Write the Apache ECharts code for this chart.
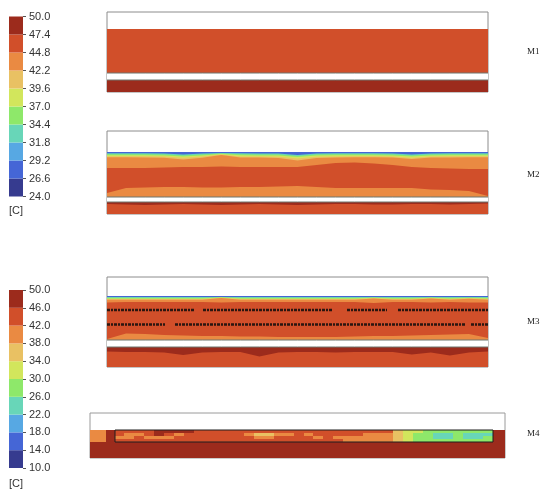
<!DOCTYPE html>
<html><head><meta charset="utf-8">
<script src="https://cdn.jsdelivr.net/npm/echarts@6/dist/echarts.min.js"></script>
<style>html,body{margin:0;padding:0;background:#fff}#c{width:550px;height:499px}</style>
</head><body><div id="c"></div>
<script>
// ---- colour scale (low -> high) and legend ticks ----
const palette = ['#363b8f','#4566d6','#57a8e3','#68d6b8','#8ee86a','#d2e65c','#e9c163','#ea8a42','#d14f2a','#9c2b1c'];
const ticks1 = [24.0,26.6,29.2,31.8,34.4,37.0,39.6,42.2,44.8,47.4,50.0];
const tickLabels1 = ['24.0','26.6','29.2','31.8','34.4','37.0','39.6','42.2','44.8','47.4','50.0'];
const ticks2 = [10,14,18,22,26,30,34,38,42,46,50];
const tickLabels2 = ['10.0','14.0','18.0','22.0','26.0','30.0','34.0','38.0','42.0','46.0','50.0'];
const bandUnits = [1,1,1,1,1,1,1,1,1,1];

// ---- sampling stations along each section ----
const stations = [0,1,2,3,4,5,6,7,8,9,10,11,12,13,14,15,16,17,18,19,20];

// ---- M1: layer top boundaries (height units from panel bottom) ----
const m1OrangeTop = [63,63,63,63,63,63,63,63,63,63,63,63,63,63,63,63,63,63,63,63,63];
const m1GapTop    = [19,19,19,19,19,19,19,19,19,19,19,19,19,19,19,19,19,19,19,19,19];
const m1DarkTop   = [12,12,12,12,12,12,12,12,12,12,12,12,12,12,12,12,12,12,12,12,12];
const m1Temps = [46, null, 49];

// ---- M2 ----
const m2BlueTop   = [62,62,62,62,62,62,62,62,62,62,62,62,62,62,62,62,62,62,62,62,62];
const m2TealTop   = [60.7,60.7,60.7,60.6,59.5,60.6,60.9,60.7,60.6,60.5,59,60.5,60.7,60.7,60.7,60.6,59.5,60.6,60.7,60.7,60.7];
const m2GreenTop  = [59.8,59.8,59.7,59.6,58.5,59.6,60.5,59.7,59.6,59.5,58,59.5,59.7,59.8,59.8,59.6,58.5,59.6,59.7,59.8,59.8];
const m2YGTop     = [58.8,58.8,58.7,58.6,57.5,58.6,60,58.7,58.6,58.4,57,58.4,58.7,58.8,58.8,58.6,57.5,58.6,58.7,58.8,58.8];
const m2YellowTop = [57.8,57.8,57.7,57.5,56.3,57.5,59.5,57.6,57.5,57.3,55.5,57.3,57.6,57.8,57.8,57.5,56.3,57.5,57.7,57.8,57.8];
const m2OrangeTop = [56.8,56.8,56.6,56.3,54.5,56.3,59,56.5,56.4,56,53.5,56,56.5,56.8,56.8,56.4,55,56.4,56.6,56.8,56.8];
const m2RedTop    = [46,46,46,46.5,47,47,47.5,47,47,47,47,49,51,51.5,50.5,49,47,46,45.5,45,45];
const m2LowOrTop  = [21,26,26.5,27,27,26.5,26.5,27,27,27.5,28,27,26,26,26,26,26,24.5,24,23,18];
const m2GapTop    = [17,17,17,17,17,17,17,17,17,17,17,17,17,17,17,17,17,17,17,17,17];
const m2DarkTop   = [12,12,12,12,12,12,12,12,12,12,12,12,12,12,12,12,12,12,12,12,12];
const m2StripTop  = [10,9.5,9,9.5,10,9.5,9,9.5,10,9.5,9,9.5,10,10,9.5,9.5,10,10,9.5,10,10.5];
const m2Temps = [28, 33, 36, 38.3, 41, 43.5, 46, 43.5, null, 49, 46];

// ---- M3 ----
const m3BlueTop   = [71,71,71,71,71,71,71,71,71,71,71,71,71,71,71,71,71,71,71,71,71];
const m3TealTop   = [70,70,70,70,70,70,70,70,70,70,70,70,70,70,70,70,70,70,70,70,70];
const m3GreenTop  = [69.3,69.3,69.3,69.3,69.3,69.3,69.8,69.3,69.3,69.3,69.3,69.3,69.3,69.3,69.6,69.3,69.3,69.6,69.3,69.5,69.3];
const m3YGTop     = [68.6,68.6,68.6,68.6,68.6,68.6,69.5,68.6,68.6,68.6,68.6,68.6,68.6,68.6,69.2,68.6,68.6,69.2,68.6,69.1,68.6];
const m3YellowTop = [68,68,68,68,68,68,69.2,68,68,68,68,68,68,68,68.8,68,68,68.8,68,68.7,68];
const m3OrangeTop = [67.3,67.3,67.3,67.3,67.3,67.3,69,67.3,67.3,67.3,67.3,67.3,67.3,67.3,68.5,67.3,67.3,68.5,67.3,68.3,67.3];
const m3RedTop    = [64.5,65,65,65,65,65,64.5,65,65,65,65,65,65,65,64,65,65,64.5,65,64.5,64.5];
const m3LowOrTop  = [28,33.5,33,32,31.5,31,31,30.5,30.5,30,30,30,30,30.5,31,31,31.5,32,32.5,33,29];
const m3GapTop    = [27,27,27,27,27,27,27,27,27,27,27,27,27,27,27,27,27,27,27,27,27];
const m3DarkTop   = [20,20,20,20,20,20,20,20,20,20,20,20,20,20,20,20,20,20,20,20,20];
const m3StripTop  = [15.5,15,15,14.5,12,14.5,15,15,10.5,14.5,15,15,14.5,15,15,15,12.5,14.5,11.5,14.5,15.5];
const m3Temps = [16, 24, 28, 32, 36, 40, 44, 40, null, 48, 44];
// dotted bands (distance along section, height); '-' marks a gap
const m3Dots1 = [[0,57],[88,57],[92,'-'],[96,57],[226,57],[233,'-'],[240,57],[280,57],[285,'-'],[291,57],[381,57]];
const m3Dots2 = [[0,42.5],[58,42.5],[63,'-'],[68,42.5],[358,42.5],[361,'-'],[364,42.5],[381,42.5]];

// ---- M4 ----
const m4FrameStations = [0,1];
const m4FrameTop = [28,28];
const m4FrameTemp = 48;
const m4LeftBlock = 40;
const m4Cols = [0,1,2,3,4,5,6,7,8,9,10,11,12,13,14,15,16,17,18,19,20,21,22,23,24,25,26,27,28,29,30,31,32,33,34,35,36,37];
const m4RowsIdx = [0,1,2,3];
// temperature rows of the channel, top row first
const m4Row0 = [44,44,44,44,48,48,48,48,44,44,44,44,44,44,44,44,44,44,44,44,44,44,44,44,44,44,44,44,36,32,32,28,28,28,28,28,28,28];
const m4Row1 = [44,40,40,44,48,44,40,44,44,44,44,44,44,40,36,36,40,40,44,40,44,44,44,44,44,40,40,40,36,32,28,28,24,24,28,24,24,24];
const m4Row2 = [40,40,44,40,40,40,44,44,44,44,44,44,44,44,40,40,44,44,44,44,40,44,40,40,40,40,40,40,36,32,28,28,24,24,28,24,24,28];
const m4Row3 = [44,44,44,44,44,44,44,44,44,44,44,44,44,44,44,44,44,44,44,44,44,44,44,40,40,40,40,40,36,32,28,28,28,28,28,28,28,28];

const sectionLabels = ['M1','M2','M3','M4'];

function colorFor(t, ticks) {
  for (let i = 0; i < ticks.length - 1; i++) {
    if (t >= ticks[i] && t < ticks[i + 1]) return palette[i];
  }
  return palette[palette.length - 1];
}

const FONT = '"Liberation Sans", Arial, sans-serif';
const grids = [
  {left: 9, top: 16.5, width: 14, height: 180},   // 0 colour bar 1
  {left: 9, top: 290, width: 14, height: 178},    // 1 colour bar 2
  {left: 107, top: 12, width: 381, height: 80, show: true, borderColor: '#8c8c8c', borderWidth: 1},   // 2 M1
  {left: 107, top: 131, width: 381, height: 83, show: true, borderColor: '#8c8c8c', borderWidth: 1},  // 3 M2
  {left: 107, top: 277, width: 381, height: 90, show: true, borderColor: '#8c8c8c', borderWidth: 1},  // 4 M3
  {left: 90, top: 413, width: 415, height: 45, show: true, borderColor: '#9a9a9a', borderWidth: 1},   // 5 M4 frame
  {left: 90, top: 430, width: 16, height: 12},    // 6 M4 left block
  {left: 115, top: 430, width: 378, height: 12, show: true, borderColor: '#1e1e1e', borderWidth: 1, z: 6} // 7 M4 channel
].map(g => Object.assign({outerBoundsMode: 'none', containLabel: false}, g));

const xAxis = [], yAxis = [];
function cbAxes(gi, labels) {
  xAxis.push({gridIndex: gi, type: 'category', data: ['c'], show: false});
  yAxis.push({gridIndex: gi, type: 'value', min: 0, max: 10, interval: 1, position: 'right',
    axisLine: {show: false}, splitLine: {show: false},
    axisTick: {show: true, length: 3, lineStyle: {color: '#555', width: 1}},
    axisLabel: {show: true, margin: 6, fontSize: 11, color: '#333', fontFamily: FONT,
      showMinLabel: true, showMaxLabel: true,
      formatter: v => labels[Math.round(v)]}});
}
cbAxes(0, tickLabels1);
cbAxes(1, tickLabels2);
[[2,80],[3,83],[4,90]].forEach(([gi, h]) => {
  xAxis.push({gridIndex: gi, type: 'category', data: stations, boundaryGap: false, show: false});
  yAxis.push({gridIndex: gi, type: 'value', min: 0, max: h, show: false});
});
xAxis.push({gridIndex: 5, type: 'category', data: m4FrameStations, boundaryGap: false, show: false});
yAxis.push({gridIndex: 5, type: 'value', min: 0, max: 45, show: false});
xAxis.push({gridIndex: 6, type: 'category', data: ['b'], show: false});
yAxis.push({gridIndex: 6, type: 'category', data: ['b'], show: false});
xAxis.push({gridIndex: 7, type: 'category', data: m4Cols, show: false});
yAxis.push({gridIndex: 7, type: 'category', data: m4RowsIdx, inverse: true, show: false});
// index 8: along-section distance axis for the M3 dotted bands
xAxis.push({gridIndex: 4, type: 'value', min: 0, max: 381, show: false});

const series = [];
function barStack(ai, stackName) {
  bandUnits.forEach((u, i) => series.push({type: 'bar', xAxisIndex: ai, yAxisIndex: ai, stack: stackName,
    data: [u], barWidth: '100%', silent: true, itemStyle: {color: palette[i]}}));
}
barStack(0, 'cb1');
barStack(1, 'cb2');

function layers(ai, tops, temps, ticks) {
  tops.forEach((top, k) => {
    const t = temps[k];
    const isGap = t === null;
    const below = k > 0 && temps[k - 1] === null;
    const color = isGap ? '#ffffff' : colorFor(t, ticks);
    series.push({type: 'line', xAxisIndex: ai, yAxisIndex: ai, data: top, symbol: 'none', silent: true,
      lineStyle: (isGap || below) ? {color: '#6e776e', width: 1} : {width: 0, color: color},
      itemStyle: {color: color},
      areaStyle: {color: color, opacity: 1}});
  });
}
layers(2, [m1OrangeTop, m1GapTop, m1DarkTop], m1Temps, ticks1);
layers(3, [m2BlueTop, m2TealTop, m2GreenTop, m2YGTop, m2YellowTop, m2OrangeTop, m2RedTop, m2LowOrTop, m2GapTop, m2DarkTop, m2StripTop], m2Temps, ticks1);
layers(4, [m3BlueTop, m3TealTop, m3GreenTop, m3YGTop, m3YellowTop, m3OrangeTop, m3RedTop, m3LowOrTop, m3GapTop, m3DarkTop, m3StripTop], m3Temps, ticks2);
[m3Dots1, m3Dots2].forEach(d => series.push({type: 'line', xAxisIndex: 8, yAxisIndex: 4, data: d, symbol: 'none',
  silent: true, connectNulls: false, lineStyle: {color: '#2a1610', width: 2.6, type: [3, 1, 2, 1]}}));

// M4 frame
series.push({type: 'line', xAxisIndex: 5, yAxisIndex: 5, data: m4FrameTop, symbol: 'none', silent: true,
  lineStyle: {width: 0}, areaStyle: {color: colorFor(m4FrameTemp, ticks2), opacity: 1}, z: 2});

// temperature cells drawn through the category scales, snapped to whole pixels
function renderCell(params, api) {
  const p = api.coord([api.value(0), api.value(1)]);
  const s = api.size([1, 1]);
  const x0 = Math.floor(p[0] - s[0] / 2), x1 = Math.ceil(p[0] + s[0] / 2);
  const y0 = Math.floor(p[1] - s[1] / 2), y1 = Math.ceil(p[1] + s[1] / 2);
  return {type: 'rect', shape: {x: x0, y: y0, width: x1 - x0, height: y1 - y0},
    style: {fill: colorFor(api.value(2), ticks2)}};
}
series.push({type: 'custom', xAxisIndex: 6, yAxisIndex: 6, silent: true, z: 4, renderItem: renderCell,
  encode: {x: 0, y: 1}, data: [[0, 0, m4LeftBlock]]});
const m4Data = [];
[m4Row0, m4Row1, m4Row2, m4Row3].forEach((row, r) => row.forEach((v, j) => m4Data.push([j, r, v])));
series.push({type: 'custom', xAxisIndex: 7, yAxisIndex: 7, silent: true, z: 4, renderItem: renderCell,
  encode: {x: 0, y: 1}, data: m4Data});

const labelY = [52, 175, 322, 434];
const graphic = sectionLabels.map((s, i) => ({type: 'text', x: 527, y: labelY[i],
  style: {text: s, fontSize: 9, fontFamily: '"Liberation Serif", "Times New Roman", serif', fill: '#222', verticalAlign: 'middle'}}));
graphic.push({type: 'text', x: 9, y: 211, style: {text: '[C]', fontSize: 11, fontFamily: FONT, fill: '#333', verticalAlign: 'middle'}});
graphic.push({type: 'text', x: 9, y: 484, style: {text: '[C]', fontSize: 11, fontFamily: FONT, fill: '#333', verticalAlign: 'middle'}});

const chart = echarts.init(document.getElementById('c'), null, {renderer: 'canvas'});
chart.setOption({
  animation: false,
  backgroundColor: '#ffffff',
  grid: grids, xAxis: xAxis, yAxis: yAxis,
  series: series,
  graphic: graphic
});
</script></body></html>
